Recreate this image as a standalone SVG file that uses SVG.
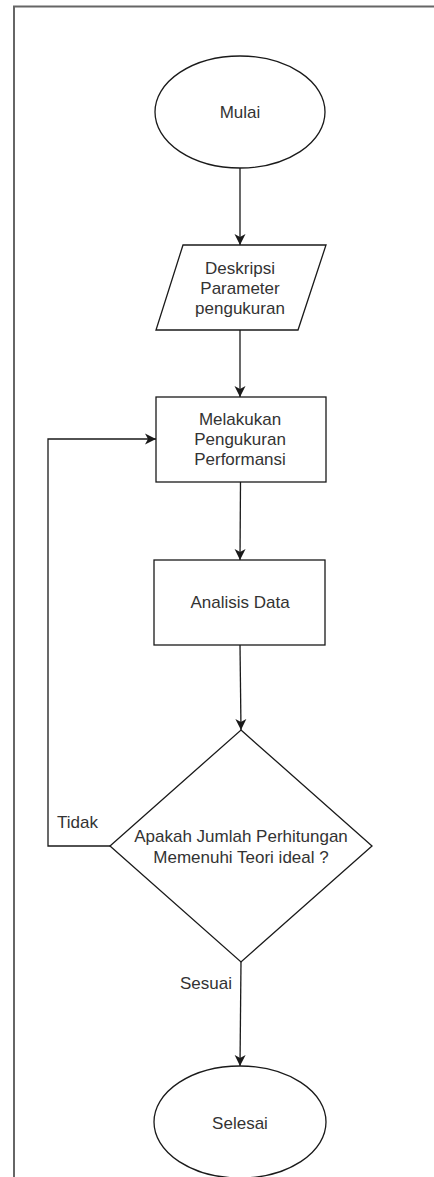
<svg xmlns="http://www.w3.org/2000/svg" width="434" height="1177" viewBox="0 0 434 1177">
<style>
.shape{fill:#ffffff;stroke:#1a1a1a;stroke-width:1.3}
.edge{fill:none;stroke:#1a1a1a;stroke-width:1.3}
.t{font-family:"Liberation Sans",Arial,sans-serif;font-size:17px;fill:#333333;text-anchor:middle}
.lbl{font-family:"Liberation Sans",Arial,sans-serif;font-size:17px;fill:#333333}
</style>
<defs>
<marker id="arr" viewBox="0 0 12 12" refX="11" refY="6" markerWidth="12" markerHeight="12" markerUnits="userSpaceOnUse" orient="auto">
<path d="M0,0.5 L11,6 L0,11.5 L3,6 Z" fill="#1a1a1a"/>
</marker>
</defs>
<rect width="434" height="1177" fill="#ffffff"/>
<path d="M14,1177 L14,6.5 L434,6.5" fill="none" stroke="#666666" stroke-width="2"/>
<g id="connectors">
<path class="edge" d="M240,168 L240,245" marker-end="url(#arr)"/>
<path class="edge" d="M240,330 L240,397" marker-end="url(#arr)"/>
<path class="edge" d="M240.5,482 L240,560" marker-end="url(#arr)"/>
<path class="edge" d="M240,645 L241,730" marker-end="url(#arr)"/>
<path class="edge" d="M241,962 L240,1066" marker-end="url(#arr)"/>
<path class="edge" d="M110,846 L48,846 L48,439 L156,439" marker-end="url(#arr)"/>
<text class="lbl" x="57" y="828">Tidak</text>
<text class="lbl" x="180" y="989">Sesuai</text>
</g>
<g id="mulai">
<ellipse class="shape" cx="240" cy="112" rx="85" ry="56"/>
<text class="t" x="240" y="118">Mulai</text>
</g>
<g id="deskripsi">
<polygon class="shape" points="183,245 326,245 298,330 156,330"/>
<text class="t" x="240" y="274">Deskripsi</text>
<text class="t" x="240" y="294">Parameter</text>
<text class="t" x="240" y="314">pengukuran</text>
</g>
<g id="pengukuran">
<rect class="shape" x="156" y="397" width="170" height="85"/>
<text class="t" x="240" y="425">Melakukan</text>
<text class="t" x="240" y="445">Pengukuran</text>
<text class="t" x="240" y="465">Performansi</text>
</g>
<g id="analisis">
<rect class="shape" x="154" y="560" width="171" height="85"/>
<text class="t" x="240" y="608">Analisis Data</text>
</g>
<g id="keputusan">
<polygon class="shape" points="241,730 372,846 241,962 110,846"/>
<text class="t" x="241" y="842">Apakah Jumlah Perhitungan</text>
<text class="t" x="241" y="863">Memenuhi Teori ideal ?</text>
</g>
<g id="selesai">
<ellipse class="shape" cx="240" cy="1122" rx="86" ry="56"/>
<text class="t" x="240" y="1129">Selesai</text>
</g>
</svg>
